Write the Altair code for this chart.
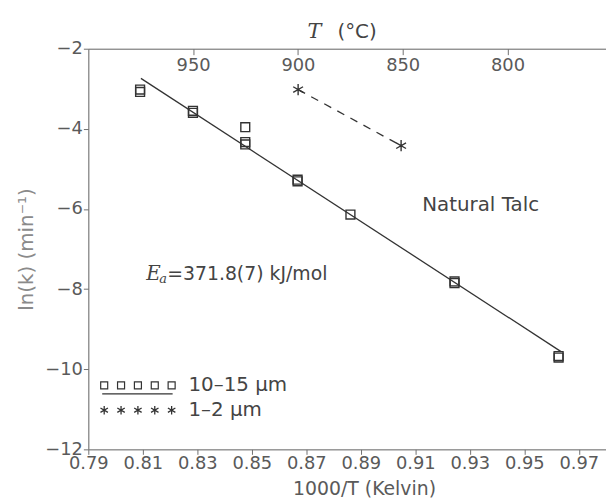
import altair as alt
import pandas as pd

# ---------------- data ----------------
inv_T = [0.809, 0.809, 0.8284, 0.8284, 0.8476, 0.8476, 0.8476, 0.8668, 0.8668,
         0.8862, 0.9244, 0.9244, 0.9626, 0.9626]
ln_k = [-3.02, -3.08, -3.55, -3.60, -3.96, -4.33, -4.39, -5.27, -5.31,
        -6.14, -7.81, -7.85, -9.67, -9.71]

fit_x = [0.8093, 0.9635]
fit_y = [-2.74, -9.56]

fine_x = [0.867, 0.9048]
fine_y = [-3.02, -4.42]

x_ticks = [0.79, 0.81, 0.83, 0.85, 0.87, 0.89, 0.91, 0.93, 0.95, 0.97]
y_ticks = [-2, -4, -6, -8, -10, -12]
top_ticks = [950, 900, 850, 800]

legend_labels = ["10\u201315  \u03bcm", "1\u20132  \u03bcm"]
legend_idx = [0, 1, 2, 3, 4]

# ---------------- style ----------------
W, H = 522, 404
FONT = "DejaVu Sans"
SERIF = "DejaVu Serif"
AX = "#6f6f6f"
LBL = "#5a5a5a"
INK = "#333333"
ASTER = "M0,-1L0,1M-0.87,-0.5L0.87,0.5M-0.87,0.5L0.87,-0.5"

xscale = alt.Scale(domain=[0.79, 0.98], nice=False, zero=False)
yscale = alt.Scale(domain=[-12, -2], nice=False, zero=False)

xaxis = alt.Axis(values=x_ticks, format=".2f", title="1000/T  (Kelvin)",
                 grid=False, tickSize=5, domainColor=AX, tickColor=AX,
                 labelColor=LBL, labelFont=FONT, labelFontSize=18,
                 labelPadding=0, titleFont=FONT, titleFontSize=19,
                 titleFontWeight="normal", titleColor=LBL, titlePadding=0,
                 titleX=278, titleY=31, labelFlush=False)
yaxis = alt.Axis(values=y_ticks, format="d", title="ln(k)  (min\u207b\u00b9)",
                 grid=False, tickSize=5, domainColor=AX, tickColor=AX,
                 labelColor=LBL, labelFont=FONT, labelFontSize=18,
                 labelPadding=1, titleFont=FONT, titleFontSize=20,
                 titleFontWeight="normal", titleColor="#8a8a8a",
                 titlePadding=8, labelFlush=False)

df_sq = pd.DataFrame({"x": inv_T, "y": ln_k})
df_fit = pd.DataFrame({"x": fit_x, "y": fit_y})
df_fine = pd.DataFrame({"x": fine_x, "y": fine_y})

squares = alt.Chart(df_sq).mark_point(
    shape="square", filled=False, size=80, strokeWidth=1.4, color=INK, opacity=1
).encode(x=alt.X("x:Q", scale=xscale, axis=xaxis),
         y=alt.Y("y:Q", scale=yscale, axis=yaxis))

fit = alt.Chart(df_fit).mark_line(color=INK, strokeWidth=1.3).encode(
    x="x:Q", y="y:Q")

dash = alt.Chart(df_fine).mark_line(color=INK, strokeWidth=1.3,
                                    strokeDash=[8, 7]).encode(x="x:Q", y="y:Q")
stars = alt.Chart(df_fine).mark_point(
    shape=ASTER, filled=False, size=130, strokeWidth=1.4, color=INK, opacity=1
).encode(x="x:Q", y="y:Q")

# annotations (anchor in data units)
talc_df = pd.DataFrame({"x": [0.934], "y": [-5.9], "t": ["Natural Talc"]})
ea_df = pd.DataFrame({"x": [0.8113], "y": [-7.62],
                      "e": ["E"], "a": ["a"], "r": ["=371.8(7)  kJ/mol"]})

talc = alt.Chart(talc_df).mark_text(
    font=FONT, fontSize=20, color="#444", align="center", baseline="middle"
).encode(x="x:Q", y="y:Q", text="t:N")
ea_e = alt.Chart(ea_df).mark_text(
    font=SERIF, fontStyle="italic", fontSize=20, color="#444",
    align="left", baseline="middle"
).encode(x="x:Q", y="y:Q", text="e:N")
ea_a = alt.Chart(ea_df).mark_text(
    font=SERIF, fontStyle="italic", fontSize=13, color="#444",
    align="left", baseline="middle", dx=13, dy=5
).encode(x="x:Q", y="y:Q", text="a:N")
ea_r = alt.Chart(ea_df).mark_text(
    font=FONT, fontSize=19, color="#444", align="left", baseline="middle", dx=21
).encode(x="x:Q", y="y:Q", text="r:N")

main = alt.layer(squares, fit, dash, stars, talc, ea_e, ea_a, ea_r)

# top Celsius axis (linear, ticks inward, labels inside)
top = alt.Chart(pd.DataFrame({"t": top_ticks})).mark_point(opacity=0).encode(
    x=alt.X("t:Q",
            scale=alt.Scale(domain=[753, 1000], reverse=True, nice=False, zero=False),
            axis=alt.Axis(orient="bottom", offset=-H, values=top_ticks,
                          title=None, grid=False, tickSize=6, domainColor=AX,
                          tickColor=AX, labelColor=LBL, labelFont=FONT,
                          labelFontSize=18, labelPadding=2, format="d")),
    y=alt.value(0))

# top axis title: italic T + (°C)
top_title = pd.DataFrame({"t": ["T"], "c": ["(\u00b0C)"]})
tt_T = alt.Chart(top_title).mark_text(
    font=SERIF, fontStyle="italic", fontSize=21, color="#444",
    align="center", baseline="middle"
).encode(x=alt.value(228), y=alt.value(-17), text="t:N")
tt_C = alt.Chart(top_title).mark_text(
    font=FONT, fontSize=20, color="#444", align="center", baseline="middle"
).encode(x=alt.value(271), y=alt.value(-17), text="c:N")

# hand-drawn legend (bottom left)
leg_scale = alt.Scale(domain=[0, 4], range=[16, 84])
leg_sq = alt.Chart(pd.DataFrame({"i": legend_idx})).mark_point(
    shape="square", filled=False, size=50, strokeWidth=1.2, color=INK, opacity=1
).encode(x=alt.X("i:Q", scale=leg_scale, axis=None), y=alt.value(339.5))
leg_st = alt.Chart(pd.DataFrame({"i": legend_idx})).mark_point(
    shape=ASTER, filled=False, size=75, strokeWidth=1.3, color=INK, opacity=1
).encode(x=alt.X("i:Q", scale=leg_scale, axis=None), y=alt.value(364.5))
leg_line = alt.Chart(pd.DataFrame({"i": [0]})).mark_rule(
    color=INK, strokeWidth=1.3
).encode(x=alt.value(14), x2=alt.value(85), y=alt.value(348))
leg_txt = alt.Chart(pd.DataFrame({"t": legend_labels, "r": [339.5, 364.5]})).mark_text(
    font=FONT, fontSize=20, color="#444", align="left", baseline="middle"
).encode(x=alt.value(101), y=alt.Y("r:Q", scale=None, axis=None), text="t:N")

chart = alt.layer(main, top, tt_T, tt_C, leg_sq, leg_st, leg_line, leg_txt).resolve_scale(
    x="independent", y="independent"
).properties(
    width=W, height=H,
    padding={"left": 81, "top": 39, "right": 0, "bottom": 48},
    autosize=alt.AutoSizeParams(type="none"),
).configure_view(stroke=AX, strokeWidth=1).configure(background="white")

chart.save("out.html", embed_options={"renderer": "svg", "actions": False})
